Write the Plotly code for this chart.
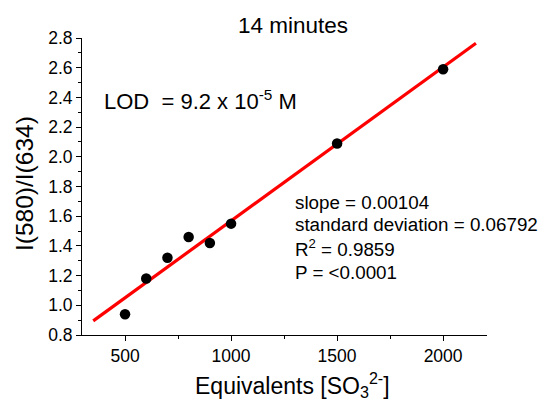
import plotly.graph_objects as go

# Data
equivalents = [500, 600, 700, 800, 900, 1000, 1500, 2000]
ratio = [0.94, 1.18, 1.32, 1.46, 1.42, 1.55, 2.09, 2.59]
fit_x = [350, 2155]
fit_y = [0.895, 2.765]

x_ticks = [500, 1000, 1500, 2000]
y_ticks = [0.8, 1.0, 1.2, 1.4, 1.6, 1.8, 2.0, 2.2, 2.4, 2.6, 2.8]

FONT = "Liberation Sans, Arial, sans-serif"

fig = go.Figure()
fig.add_trace(go.Scatter(x=fit_x, y=fit_y, mode="lines",
                         line=dict(color="#ff0000", width=3.2), showlegend=False))
fig.add_trace(go.Scatter(x=equivalents, y=ratio, mode="markers",
                         marker=dict(color="black", size=10.5), showlegend=False))

W, H = 542, 402
ml, mr, mt, mb = 82, 55, 38, 67

fig.update_layout(
    width=W, height=H,
    margin=dict(l=ml, r=mr, t=mt, b=mb),
    paper_bgcolor="white", plot_bgcolor="white",
    font=dict(family=FONT, color="black"),
    showlegend=False,
)
fig.update_xaxes(
    range=[297, 2207], tickvals=x_ticks, ticktext=[str(v) for v in x_ticks],
    showgrid=False, zeroline=False, showline=True, linecolor="black", linewidth=1,
    ticks="outside", ticklen=5, tickwidth=1, tickcolor="black",
    minor=dict(dtick=250, tick0=0, ticks="outside", ticklen=3, tickcolor="black", showgrid=False),
    tickfont=dict(size=17.5, family=FONT),
)
fig.update_yaxes(
    range=[0.8, 2.8], tickvals=y_ticks, ticktext=[f"{v:.1f}" for v in y_ticks],
    showgrid=False, zeroline=False, showline=True, linecolor="black", linewidth=1,
    ticks="outside", ticklen=5, tickwidth=1, tickcolor="black",
    minor=dict(dtick=0.1, tick0=0.8, ticks="outside", ticklen=3, tickcolor="black", showgrid=False),
    tickfont=dict(size=17.5, family=FONT),
)

pw = W - ml - mr
ph = H - mt - mb

def ax_x(p):
    return (p - ml) / pw

def ax_y(p):
    return 1 - (p - mt) / ph

ann = [
    dict(text="14 minutes", x=293, y=26, size=22.5, xanchor="center", angle=0),
    dict(text="LOD  = 9.2 x 10<sup>-5</sup> M", x=102, y=100, size=22, xanchor="left", angle=0),
    dict(text="slope = 0.00104", x=293, y=202, size=18.8, xanchor="left", angle=0),
    dict(text="standard deviation = 0.06792", x=293, y=224, size=18.8, xanchor="left", angle=0),
    dict(text="R<sup>2</sup> = 0.9859", x=293, y=248, size=18.8, xanchor="left", angle=0),
    dict(text="P = <0.0001", x=293, y=272, size=18.8, xanchor="left", angle=0),
    dict(text="Equivalents [SO<sub>3</sub><sup>2-</sup>]", x=292, y=385, size=23, xanchor="center", angle=0),
    dict(text="I(580)/I(634)", x=24, y=184, size=24.5, xanchor="center", angle=-90),
]
for a in ann:
    fig.add_annotation(text=a["text"], x=ax_x(a["x"]), y=ax_y(a["y"]), xref="paper", yref="paper",
                       xanchor=a["xanchor"], yanchor="middle", showarrow=False, textangle=a["angle"],
                       font=dict(size=a["size"], family=FONT, color="black"))

fig.write_html("out.html")
